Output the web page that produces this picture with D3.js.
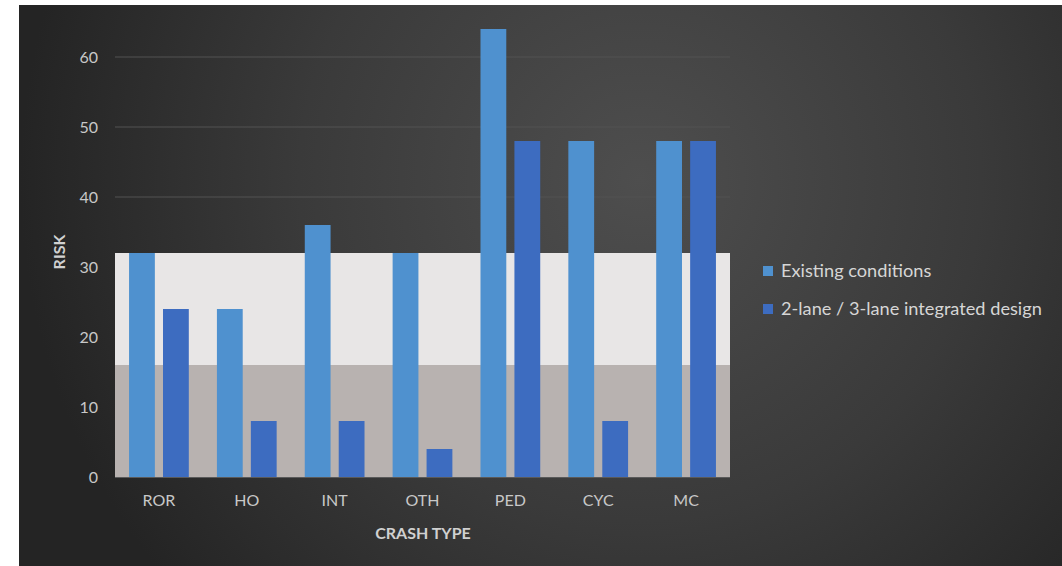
<!DOCTYPE html>
<html>
<head>
<meta charset="utf-8">
<script src="https://cdn.jsdelivr.net/npm/d3@7"></script>
<style>
  body { margin: 0; background: #fff; }
  svg { display: block; }
  text { font-family: Lato, "Open Sans", sans-serif; }
</style>
</head>
<body>
<svg id="chart" width="1062" height="566"></svg>
<script>
// data
const CATEGORIES = ['ROR', 'HO', 'INT', 'OTH', 'PED', 'CYC', 'MC'];
const EXISTING = [32, 24, 36, 32, 64, 48, 48];
const INTEGRATED = [24, 8, 8, 4, 48, 8, 48];
const SERIES_NAMES = ['Existing conditions', '2-lane / 3-lane integrated design'];
const Y_TICKS = [0, 10, 20, 30, 40, 50, 60];
// shaded risk bands behind the bars
const BANDS = [{from: 16, to: 32, fill: '#e8e6e6'}, {from: 0, to: 16, fill: '#b8b2b0'}];

const COLORS = ['#4f91cf', '#3d6cc0'];

const svg = d3.select('#chart');

// dark gradient background, white strip on left and top
const defs = svg.append('defs');
const grad = defs.append('radialGradient')
    .attr('id', 'bg')
    .attr('gradientUnits', 'userSpaceOnUse')
    .attr('cx', 640).attr('cy', 180).attr('r', 620);
grad.append('stop').attr('offset', '0%').attr('stop-color', '#4e4e4e');
grad.append('stop').attr('offset', '55%').attr('stop-color', '#3a3a3a');
grad.append('stop').attr('offset', '100%').attr('stop-color', '#242424');

svg.append('rect')
    .attr('x', 19).attr('y', 5)
    .attr('width', 1043).attr('height', 561)
    .attr('fill', 'url(#bg)');

const margin = {left: 115, right: 730, top: 29, bottom: 477};

const x = d3.scaleBand()
    .domain(CATEGORIES)
    .range([margin.left, margin.right])
    .paddingInner(0.32)
    .paddingOuter(0.16);

const xSub = d3.scaleBand()
    .domain([0, 1])
    .range([0, x.bandwidth()])
    .paddingInner(0.24);

const y = d3.scaleLinear()
    .domain([0, 60])
    .range([margin.bottom, 57]);

// gridlines
svg.append('g')
    .selectAll('line')
    .data(Y_TICKS.filter(d => d > 0))
    .enter()
    .append('line')
    .attr('x1', margin.left)
    .attr('x2', margin.right)
    .attr('y1', d => y(d))
    .attr('y2', d => y(d))
    .attr('stroke', '#525252')
    .attr('stroke-width', 1);

// bands
svg.append('g')
    .selectAll('rect')
    .data(BANDS)
    .enter()
    .append('rect')
    .attr('x', margin.left)
    .attr('width', margin.right - margin.left)
    .attr('y', d => y(d.to))
    .attr('height', d => y(d.from) - y(d.to))
    .attr('fill', d => d.fill);

// bars
const rows = CATEGORIES.map((c, i) => ({cat: c, vals: [EXISTING[i], INTEGRATED[i]]}));
const groups = svg.append('g')
    .selectAll('g')
    .data(rows)
    .enter()
    .append('g')
    .attr('transform', d => `translate(${x(d.cat)},0)`);

groups.selectAll('rect')
    .data(d => d.vals.map((v, k) => ({v, k})))
    .enter()
    .append('rect')
    .attr('x', d => xSub(d.k))
    .attr('width', xSub.bandwidth())
    .attr('y', d => y(d.v))
    .attr('height', d => y(0) - y(d.v))
    .attr('fill', d => COLORS[d.k]);

// baseline
svg.append('line')
    .attr('x1', margin.left).attr('x2', margin.right)
    .attr('y1', y(0) + 0.5).attr('y2', y(0) + 0.5)
    .attr('stroke', '#5a5a5a');

// y axis labels
const yAxis = svg.append('g')
    .attr('transform', `translate(${margin.left}, 0)`)
    .call(d3.axisLeft(y).tickValues(Y_TICKS).tickSize(0).tickPadding(17));
yAxis.select('.domain').remove();
yAxis.selectAll('text')
    .attr('fill', '#c8c8c8')
    .style('font-size', '16px')
    .style('font-family', 'Lato, sans-serif');

// x axis labels
const xAxis = svg.append('g')
    .attr('transform', `translate(0, ${margin.bottom})`)
    .call(d3.axisBottom(x).tickSize(0).tickPadding(18));
xAxis.select('.domain').remove();
xAxis.selectAll('text')
    .attr('fill', '#c8c8c8')
    .style('font-size', '16px')
    .style('font-family', 'Lato, sans-serif');

// axis titles
svg.append('text')
    .attr('x', 423).attr('y', 539)
    .attr('text-anchor', 'middle')
    .attr('fill', '#d0d0d0')
    .style('font-size', '16px')
    .style('font-weight', 'bold')
    .text('CRASH TYPE');

svg.append('text')
    .attr('transform', 'translate(65, 252) rotate(-90)')
    .attr('text-anchor', 'middle')
    .attr('fill', '#d0d0d0')
    .style('font-size', '16px')
    .style('font-weight', 'bold')
    .text('RISK');

// legend
const legend = svg.append('g')
    .selectAll('g')
    .data(SERIES_NAMES)
    .enter()
    .append('g')
    .attr('transform', (d, i) => `translate(763, ${271 + i * 38})`);

legend.append('rect')
    .attr('x', 0).attr('y', -5)
    .attr('width', 10).attr('height', 10)
    .attr('fill', (d, i) => COLORS[i]);

legend.append('text')
    .attr('x', 18).attr('y', 6)
    .attr('fill', '#d6d6d6')
    .style('font-size', '18.2px')
    .text(d => d);
</script>
</body>
</html>
